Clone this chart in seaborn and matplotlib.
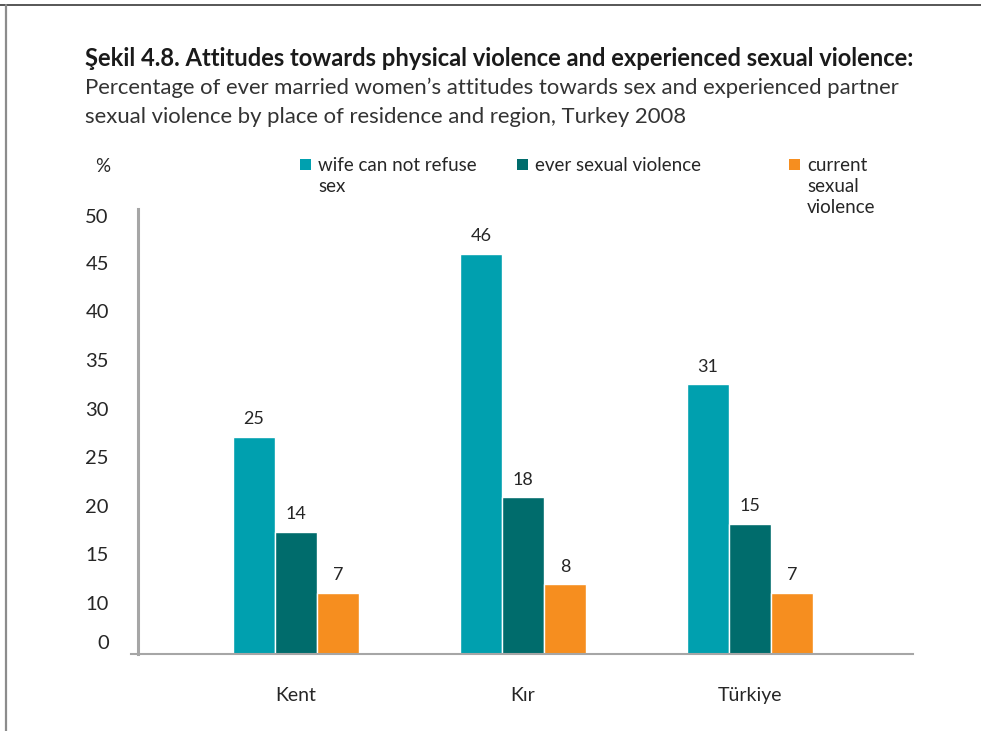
import matplotlib
matplotlib.use("Agg")
import matplotlib.pyplot as plt
from matplotlib.lines import Line2D
from matplotlib.patches import Rectangle
import seaborn as sns
import pandas as pd

# Data
regions = ["Kent", "Kır", "Türkiye"]
series = ["wife can not refuse\nsex", "ever sexual violence", "current\nsexual\nviolence"]
wife_cannot_refuse = [25, 46, 31]
ever_sexual_violence = [14, 18, 15]
current_sexual_violence = [7, 8, 7]
ytick_labels = ["0", "10", "15", "20", "25", "30", "35", "40", "45", "50"]

colors = ["#00A0AF", "#006C6C", "#F68E1F"]

df = pd.DataFrame({
    "region": regions * 3,
    "series": [series[0]] * 3 + [series[1]] * 3 + [series[2]] * 3,
    "value": wife_cannot_refuse + ever_sexual_violence + current_sexual_violence,
})

sns.set_theme(style="white")
plt.rcParams["font.family"] = ["Lato", "DejaVu Sans"]
TXT = "#262626"

W, H = 981, 731
fig = plt.figure(figsize=(W / 100, H / 100), dpi=100)

# axes: x from 131 to 913 px, y from 209 to 654 px
ax_left, ax_right, ax_top, ax_bottom = 131, 913, 209, 654
ax = fig.add_axes([ax_left / W, 1 - ax_bottom / H,
                   (ax_right - ax_left) / W, (ax_bottom - ax_top) / H])

sns.barplot(data=df, x="region", y="value", hue="series", palette=colors,
            width=0.555, saturation=1, ax=ax, legend=False)

px_per_unit = 8.7
ax.set_ylim(0, (ax_bottom - ax_top) / px_per_unit)
ax.set_xlim(-0.727, 2.718)

for cont in ax.containers:
    ax.bar_label(cont, fmt="%g", padding=7, fontsize=13, color=TXT)

# y tick labels as printed along the axis
tick_px = [642, 603, 554, 506, 457, 409, 360, 311, 263, 216]
ax.tick_params(axis="y", length=0, pad=21, labelsize=14.5, labelcolor=TXT)
ax.tick_params(axis="x", length=0, pad=24, labelsize=14, labelcolor=TXT)
ax.set_yticks([(ax_bottom - p) / px_per_unit for p in tick_px])
ax.set_yticklabels(ytick_labels)
ax.set_xlabel("")
ax.set_ylabel("")

for s in ["top", "right"]:
    ax.spines[s].set_visible(False)
ax.spines["left"].set_position(("axes", 7 / (ax_right - ax_left)))
ax.spines["left"].set_color("#A6A6A6")
ax.spines["left"].set_linewidth(2.2)
ax.spines["bottom"].set_color("#A6A6A6")
ax.spines["bottom"].set_linewidth(1.5)
ax.grid(False)

# Legend: colour square aligned with the first text line
leg_x = [300, 517, 789]
leg_top = 159
for lbl, col, x in zip(series, colors, leg_x):
    fig.add_artist(Rectangle((x / W, 1 - (leg_top + 11) / H), 11 / W, 11 / H,
                             transform=fig.transFigure, facecolor=col, edgecolor="none"))
    fig.text((x + 18) / W, 1 - (leg_top - 2) / H, lbl, fontsize=13.5, color=TXT,
             va="top", ha="left", linespacing=1.3)

fig.text(95 / W, 1 - 166 / H, "%", fontsize=13.5, color=TXT, va="center")

# Title and subtitle
fig.text(85 / W, 1 - 58 / H, "Şekil 4.8. Attitudes towards physical violence and experienced sexual violence:",
         fontsize=17.1, fontweight="bold", color="#1a1a1a", va="center")
fig.text(85 / W, 1 - 88 / H,
         "Percentage of ever married women’s attitudes towards sex and experienced partner",
         fontsize=15.9, color="#333333", va="center")
fig.text(85 / W, 1 - 117 / H,
         "sexual violence by place of residence and region, Turkey 2008",
         fontsize=15.9, color="#333333", va="center")

# Page frame lines
fig.add_artist(Line2D([0, 1], [1 - 5 / H, 1 - 5 / H], transform=fig.transFigure,
                      color="#3a3a3a", linewidth=1.2))
fig.add_artist(Line2D([5.5 / W, 5.5 / W], [0, 1 - 5 / H], transform=fig.transFigure,
                      color="#8C8C8C", linewidth=1.6))

fig.savefig("out.png", dpi=100)
